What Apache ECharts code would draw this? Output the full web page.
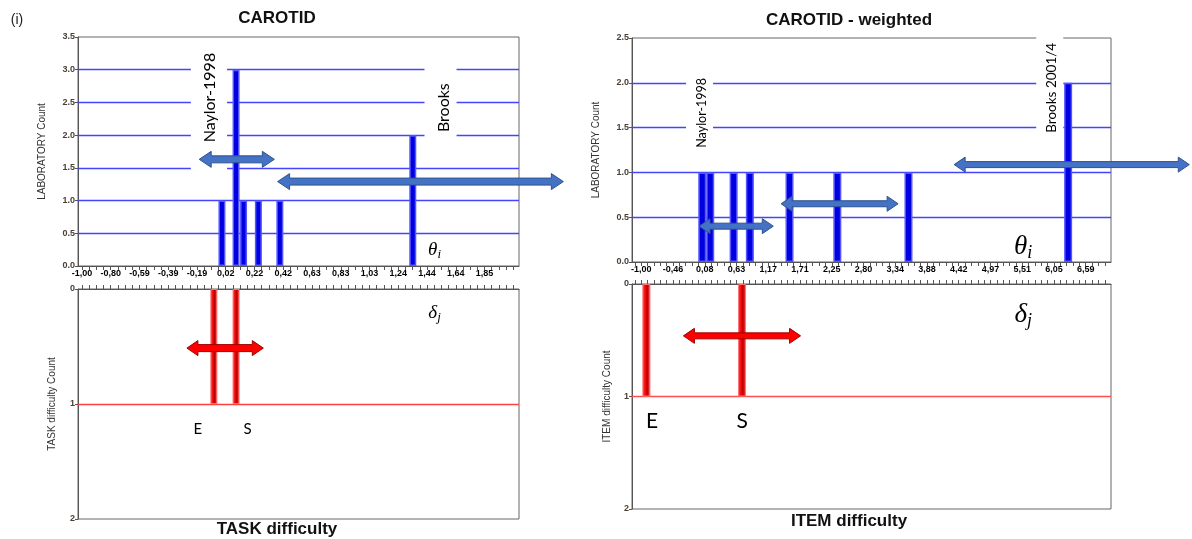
<!DOCTYPE html>
<html><head><meta charset="utf-8">
<script src="https://cdn.jsdelivr.net/npm/echarts@6/dist/echarts.min.js"></script>
<style>html,body{margin:0;padding:0;background:#fff}#c{width:1192px;height:539px}</style>
</head><body><div id="c"></div>
<script>
// ---------- DATA ----------
// Left panel: CAROTID
const tickLabelsL = ['-1,00','-0,80','-0,59','-0,39','-0,19','0,02','0,22','0,42','0,63','0,83','1,03','1,24','1,44','1,64','1,85'];
const labPosL   = [-0.009, 0.091, 0.144, 0.249, 0.401, 1.342];
const labCountL = [1, 3, 1, 1, 1, 2];
const taskPosL   = [-0.066, 0.091];
const taskCountL = [1, 1];
const gridLevelsL = [0.5, 1.0, 1.5, 2.0, 2.5, 3.0];
// Right panel: CAROTID - weighted
const tickLabelsR = ['-1,00','-0,46','0,08','0,63','1,17','1,71','2,25','2,80','3,34','3,88','4,42','4,97','5,51','6,05','6,59'];
const labPosR   = [0.041, 0.177, 0.577, 0.854, 1.531, 2.348, 3.563, 6.29];
const labCountR = [1, 1, 1, 1, 1, 1, 1, 2];
const itemPosR   = [-0.913, 0.721];
const itemCountR = [1, 1];
const gridLevelsR = [0.5, 1.0, 1.5, 2.0];
// Annotation arrows [from, to, level] in data units
const arrowsTopL = [[-0.170, 0.362, 1.63], [0.385, 2.408, 1.29]];
const arrowsBotL = [[-0.257, 0.284, 0.514]];
const arrowsTopR = [[-0.014, 1.254, 0.40], [1.387, 3.386, 0.65], [4.343, 8.359, 1.087]];
const arrowsBotR = [[-0.281, 1.720, 0.461]];

// ---------- helpers ----------
const AX = { L: { min: -1.028, max: 2.094, sub: 4 }, R: { min: -1.159, max: 7.022, sub: 5 } };
function parseLbl(s) { return parseFloat(s.replace(',', '.')); }
function tickSet(labels, min, max, sub) {
  const first = parseLbl(labels[0]), last = parseLbl(labels[labels.length - 1]);
  const step = (last - first) / (labels.length - 1);
  const vals = labels.map((s, i) => first + i * step);
  const minor = step / sub, ticks = [];
  const kmin = Math.ceil((min - first) / minor - 1e-9), kmax = Math.floor((max - first) / minor + 1e-9);
  for (let k = kmin; k <= kmax; k++) ticks.push(first + k * minor);
  return { vals, ticks };
}
function fmt(labels, vals) {
  return v => { let b = 0, bd = 1e9; vals.forEach((x, i) => { const d = Math.abs(x - v); if (d < bd) { bd = d; b = i; } }); return labels[b]; };
}
const TL = tickSet(tickLabelsL, AX.L.min, AX.L.max, AX.L.sub);
const TR = tickSet(tickLabelsR, AX.R.min, AX.R.max, AX.R.sub);

const AXC = '#555';
function xTop(grid, ax, T, labels) {
  return { gridIndex: grid, type: 'value', min: ax.min, max: ax.max, position: 'bottom',
    axisLine: { show: true, onZero: false, lineStyle: { color: AXC, width: 1 } },
    axisTick: { show: true, customValues: T.ticks, length: 4, lineStyle: { color: AXC } },
    axisLabel: { show: true, customValues: T.vals, formatter: fmt(labels, T.vals), fontSize: 9, fontWeight: 'bold',
      color: '#000', margin: 3, fontFamily: 'Liberation Sans' },
    splitLine: { show: false } };
}
function xBot(grid, ax, T) {
  return { gridIndex: grid, type: 'value', min: ax.min, max: ax.max, position: 'top',
    axisLine: { show: true, onZero: false, lineStyle: { color: AXC, width: 1 } },
    axisTick: { show: true, customValues: T.ticks, length: 4, lineStyle: { color: AXC } },
    axisLabel: { show: false }, splitLine: { show: false } };
}
function yAx(grid, max, interval, name, gap, inverse, dec) {
  return { gridIndex: grid, type: 'value', min: 0, max: max, interval: interval, inverse: inverse,
    name: name, nameLocation: 'middle', nameGap: gap,
    nameTextStyle: { fontSize: 10, color: '#333', fontFamily: 'Liberation Sans' },
    axisLine: { show: true, onZero: false, lineStyle: { color: AXC } },
    axisTick: { show: true, length: 3, lineStyle: { color: AXC } },
    axisLabel: { fontSize: 9, fontWeight: 'bold', color: '#4a4038', margin: 3, fontFamily: 'Liberation Sans',
      formatter: v => v.toFixed(dec) },
    splitLine: { show: false } };
}
function levelSeries(xi, yi, levels, color) {
  return { type: 'line', xAxisIndex: xi, yAxisIndex: yi, data: [], silent: true, z: 1,
    markLine: { silent: true, z: 1, symbol: ['none', 'none'], animation: false, label: { show: false },
      lineStyle: { color: color, width: 1.4, type: 'solid', opacity: 1 }, emphasis: { disabled: true },
      data: levels.map(v => ({ yAxis: v })) } };
}
const blueBar = { color: '#0000e0', borderColor: '#5555ff', borderWidth: 1.5 };
const redBar = { color: { type: 'linear', x: 0, y: 0, x2: 1, y2: 0, colorStops: [
  { offset: 0, color: '#ff3a3a' }, { offset: 0.45, color: '#f00000' }, { offset: 0.6, color: '#b00000' }, { offset: 1, color: '#ff4a4a' }] },
  borderColor: '#ff7070', borderWidth: 1 };

function barSeries(xi, yi, pos, cnt, style, w) {
  return { type: 'bar', xAxisIndex: xi, yAxisIndex: yi, barWidth: w, itemStyle: style, silent: true,
    data: pos.map((x, i) => [x, cnt[i]]), z: 7 };
}
function arrowSeries(xi, yi, arr, fill, stroke, hb, hh, L) {
  return { type: 'custom', xAxisIndex: xi, yAxisIndex: yi, clip: false, silent: true, z: 8,
    encode: { x: [0, 1], y: 2 }, data: arr,
    renderItem(params, api) {
      const p1 = api.coord([api.value(0), api.value(2)]);
      const p2 = api.coord([api.value(1), api.value(2)]);
      const y = p1[1], x1 = p1[0], x2 = p2[0];
      return { type: 'polygon', shape: { points: [[x1, y], [x1 + L, y - hh], [x1 + L, y - hb], [x2 - L, y - hb], [x2 - L, y - hh], [x2, y],
        [x2 - L, y + hh], [x2 - L, y + hb], [x1 + L, y + hb], [x1 + L, y + hh]] },
        style: { fill: fill, stroke: stroke, lineWidth: 1 } };
    } };
}
// boxes: [x1,x2,y1,y2]
function boxSeries(xi, yi, boxes) {
  return { type: 'custom', xAxisIndex: xi, yAxisIndex: yi, clip: false, silent: true, z: 6,
    encode: { x: [0, 1], y: [2, 3] }, data: boxes,
    renderItem(params, api) {
      const a = api.coord([api.value(0), api.value(3)]);
      const b = api.coord([api.value(1), api.value(2)]);
      return { type: 'rect', shape: { x: Math.min(a[0], b[0]), y: Math.min(a[1], b[1]), width: Math.abs(b[0] - a[0]), height: Math.abs(b[1] - a[1]) },
        style: { fill: '#ffffff' } };
    } };
}
function textSeries(xi, yi, items) {
  return { type: 'custom', xAxisIndex: xi, yAxisIndex: yi, clip: false, silent: true, z: 9,
    data: items.map(it => [it.x, it.y]),
    renderItem(params, api) {
      const it = items[params.dataIndex];
      const p = api.coord([api.value(0), api.value(1)]);
      const style = { text: it.t, fill: '#000', fontSize: it.size, fontFamily: it.font || 'Lato', align: 'center', verticalAlign: 'middle' };
      if (it.rich) style.rich = it.rich;
      return { type: 'text', x: p[0], y: p[1], rotation: it.rot ? Math.PI / 2 : 0, style: style };
    } };
}
function greek(ch, sub, size) {
  return { t: '{a|' + ch + '}{b|' + sub + '}', rich: {
    a: { fontSize: size, fontFamily: 'Liberation Serif', fontStyle: 'italic', fill: '#000' },
    b: { fontSize: Math.round(size * 0.68), fontFamily: 'Liberation Serif', fontStyle: 'italic', fill: '#000', verticalAlign: 'bottom', padding: [Math.round(size*0.45), 0, 0, 0] } } };
}
const thL = greek('θ', 'i', 19), dlL = greek('δ', 'j', 19), thR = greek('θ', 'i', 27), dlR = greek('δ', 'j', 27);
const TT = { fontWeight: 'bold', fontFamily: 'Liberation Sans', fill: '#111', align: 'center', verticalAlign: 'middle' };

const option = {
  animation: false,
  backgroundColor: '#fff',
  grid: [
    { left: 78, top: 37, width: 441, height: 229, show: true, borderColor: '#666', borderWidth: 1 },
    { left: 78, top: 289, width: 441, height: 230, show: true, borderColor: '#666', borderWidth: 1 },
    { left: 632, top: 38, width: 479, height: 224, show: true, borderColor: '#666', borderWidth: 1 },
    { left: 632, top: 284, width: 479, height: 225, show: true, borderColor: '#666', borderWidth: 1 }
  ],
  xAxis: [ xTop(0, AX.L, TL, tickLabelsL), xBot(1, AX.L, TL), xTop(2, AX.R, TR, tickLabelsR), xBot(3, AX.R, TR) ],
  yAxis: [
    yAx(0, 3.5, 0.5, 'LABORATORY Count', 31, false, 1),
    yAx(1, 2, 1, 'TASK difficulty Count', 21, true, 0),
    yAx(2, 2.5, 0.5, 'LABORATORY Count', 31, false, 1),
    yAx(3, 2, 1, 'ITEM difficulty Count', 20, true, 0)
  ],
  graphic: [
    { type: 'text', x: 17, y: 20, style: { text: '(i)', fontSize: 14, fontFamily: 'Liberation Sans', fill: '#222', align: 'center', verticalAlign: 'middle' } },
    { type: 'text', x: 277, y: 18, style: Object.assign({ text: 'CAROTID', fontSize: 17 }, TT) },
    { type: 'text', x: 849, y: 20, style: Object.assign({ text: 'CAROTID - weighted', fontSize: 17 }, TT) },
    { type: 'text', x: 277, y: 529, style: Object.assign({ text: 'TASK difficulty', fontSize: 17 }, TT) },
    { type: 'text', x: 849, y: 521, style: Object.assign({ text: 'ITEM difficulty', fontSize: 17 }, TT) }
  ],
  series: [
    // left top
    levelSeries(0, 0, gridLevelsL, '#4444ff'),
    boxSeries(0, 0, [[-0.229, 0.027, 1.437, 3.332], [1.425, 1.652, 1.910, 3.118]]),
    textSeries(0, 0, [
      { t: 'Naylor-1998', x: -0.094, y: 2.575, size: 16, rot: true },
      { t: 'Brooks', x: 1.560, y: 2.42, size: 16, rot: true },
      Object.assign({ x: 1.496, y: 0.245, size: 19 }, thL)
    ]),
    barSeries(0, 0, labPosL, labCountL, blueBar, 7),
    arrowSeries(0, 0, arrowsTopL, '#4472c4', '#2f528f', 3.5, 8, 12),
    // left bottom
    levelSeries(1, 1, [1], '#ff4040'),
    textSeries(1, 1, [
      Object.assign({ x: 1.496, y: 0.207, size: 19 }, dlL),
      { t: 'E', x: -0.179, y: 1.218, size: 15 },
      { t: 'S', x: 0.173, y: 1.218, size: 15 }
    ]),
    barSeries(1, 1, taskPosL, taskCountL, redBar, 7),
    arrowSeries(1, 1, arrowsBotL, '#ff0000', '#a00000', 3.5, 7.5, 11),
    // right top
    levelSeries(2, 2, gridLevelsR, '#4444ff'),
    boxSeries(2, 2, [[-0.236, 0.225, 1.223, 2.117], [5.745, 6.207, 1.403, 2.530]]),
    textSeries(2, 2, [
      { t: 'Naylor-1998', x: 0.037, y: 1.665, size: 12.5, rot: true },
      { t: 'Brooks 2001/4', x: 6.013, y: 1.944, size: 13.5, rot: true },
      Object.assign({ x: 5.523, y: 0.164, size: 27 }, thR)
    ]),
    barSeries(2, 2, labPosR, labCountR, blueBar, 8),
    arrowSeries(2, 2, arrowsTopR, '#4472c4', '#2f528f', 3, 7.5, 11),
    // right bottom
    levelSeries(3, 3, [1], '#ff5050'),
    textSeries(3, 3, [
      Object.assign({ x: 5.523, y: 0.274, size: 27 }, dlR),
      { t: 'E', x: -0.817, y: 1.218, size: 21 },
      { t: 'S', x: 0.721, y: 1.218, size: 21 }
    ]),
    barSeries(3, 3, itemPosR, itemCountR, redBar, 8),
    arrowSeries(3, 3, arrowsBotR, '#ff0000', '#a00000', 3, 7.5, 11)
  ]
};
const chart = echarts.init(document.getElementById('c'), null, { renderer: 'canvas' });
chart.setOption(option);
</script></body></html>
